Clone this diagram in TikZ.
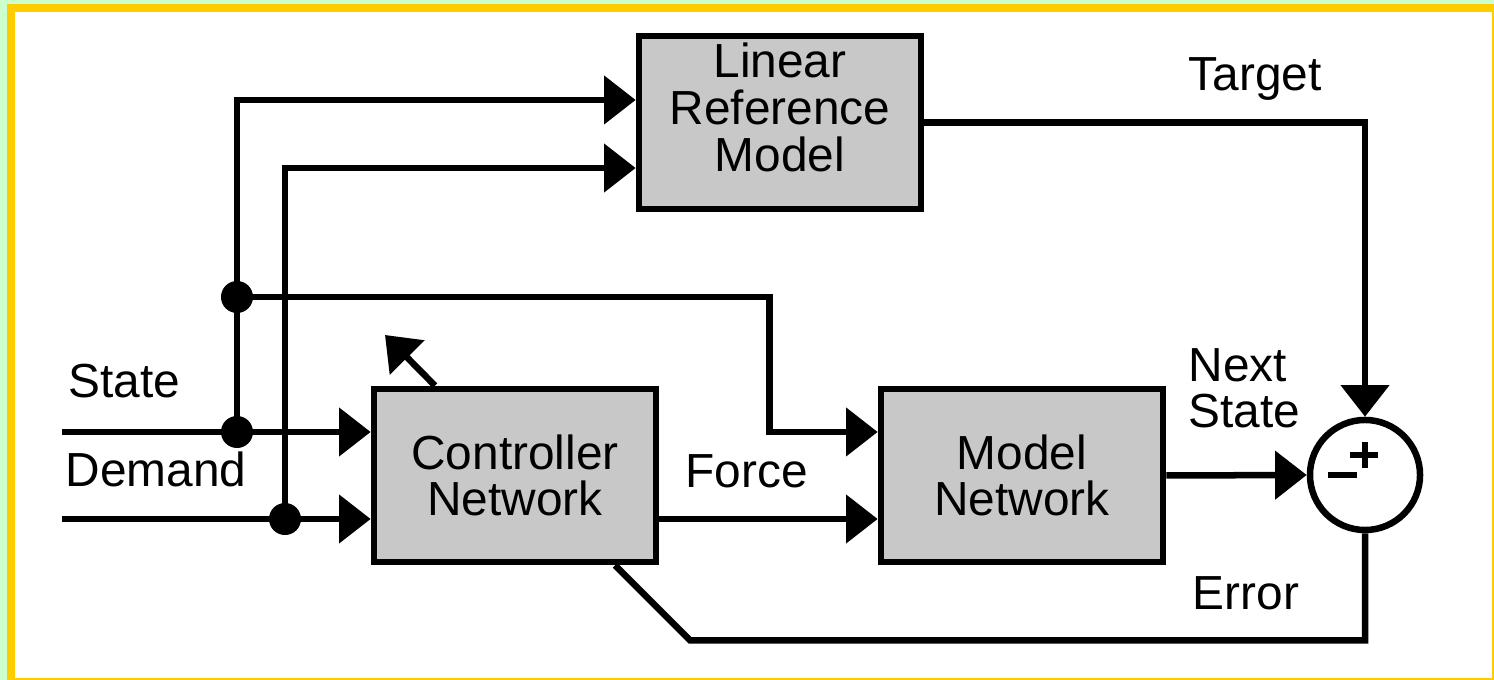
\documentclass[tikz,border=0pt]{standalone}
\usepackage{fontspec}
\setmainfont{Liberation Sans}
\usetikzlibrary{arrows.meta,positioning,calc}
\definecolor{blockgray}{RGB}{200,200,200}
\definecolor{framegreen}{RGB}{204,255,204}
\definecolor{frameyellow}{RGB}{255,204,0}
\tikzset{
  wire/.style={line width=1.85pt},
  sig/.style={wire,-{Triangle[length=9pt,width=13.5pt]}},
  block/.style={draw,line width=1.85pt,fill=blockgray,minimum width=2.82cm,minimum height=1.73cm,align=center,font=\fontsize{13.6}{13.3}\selectfont},
  sumnode/.style={draw,circle,line width=1.85pt,fill=white,minimum size=1.1cm,inner sep=0pt},
  dot/.style={circle,fill=black,minimum size=0.32cm,inner sep=0pt},
  lbl/.style={font=\fontsize{13.6}{13.3}\selectfont,align=left,inner sep=0pt}
}

\begin{document}
\begin{tikzpicture}[x=0.01cm,y=-0.01cm]
% --- frame ---
\useasboundingbox (0,0) rectangle (1494,680);
\fill[framegreen] (0,0) rectangle (1494,680);
\fill[frameyellow] (7,4) rectangle (1494,680);
\fill[white] (15,12) rectangle (1492,678);

% --- blocks ---
\node[block] (lrm) at (780,122.5) {};
\node[font=\fontsize{13.6}{13.3}\selectfont,align=center] (lrmtext) at ([yshift=1.5mm]lrm.center) {Linear\\Reference\\Model};
\node[block] (ctrl) at (515,475.5) {Controller\\Network};
\node[block] (model) at (1022,475.5) {Model\\Network};
\node[sumnode] (sum) at (1365,475) {};
\draw[wire] ([xshift=-3.7mm]sum.center) -- ([xshift=-0.8mm]sum.center);
\draw[wire] ([xshift=-1.5mm,yshift=2mm]sum.center) -- ([xshift=1.3mm,yshift=2mm]sum.center);
\draw[wire] ([yshift=0.7mm]sum.center) -- ([yshift=3.3mm]sum.center);

% --- inputs ---
\coordinate (sin) at (62,432);
\coordinate (din) at (62,519);
\node[dot] (js) at (237,432) {};
\node[dot] (jd) at (285,519) {};
\node[dot] (jm) at (237,297) {};
\draw[sig] (sin) -- (sin -| ctrl.west);
\draw[sig] (din) -- (din -| ctrl.west);
\draw[sig] (js.center) |- ([yshift=2.25mm]lrm.west);
\draw[sig] (jd.center) |- ([yshift=-4.55mm]lrm.west);
\draw[sig] (jm.center) -| ([xshift=-1.08cm,yshift=4.35mm]model.west) -- ([yshift=4.35mm]model.west);

% --- forward path ---
\draw[sig] (ctrl.east |- din) -- (model.west |- din);
\draw[sig] (model.east) -- (sum.west);
\draw[sig] (lrm.east) -| (sum.north);

% --- error feedback ---
\coordinate (adj) at (385,335);
\draw[wire] (sum.south) |- ([xshift=1.75cm,yshift=-0.75cm]ctrl.south) -- ([xshift=1cm]ctrl.south);
\draw[sig] ([xshift=-8mm]ctrl.north) -- (adj);

% --- labels ---
\node[lbl,anchor=base west] (lstate) at (68,398) {State};
\node[lbl,anchor=base west] (ldemand) at (65,487) {Demand};
\node[lbl,anchor=base west] (lforce) at (685,488) {Force};
\node[lbl,anchor=base west] (ltarget) at (1188,91) {Target};
\node[lbl,anchor=base west] (lnext) at (1188,428) {Next\\State};
\node[lbl,anchor=base west] (lerror) at (1192,610) {Error};
\end{tikzpicture}
\end{document}
